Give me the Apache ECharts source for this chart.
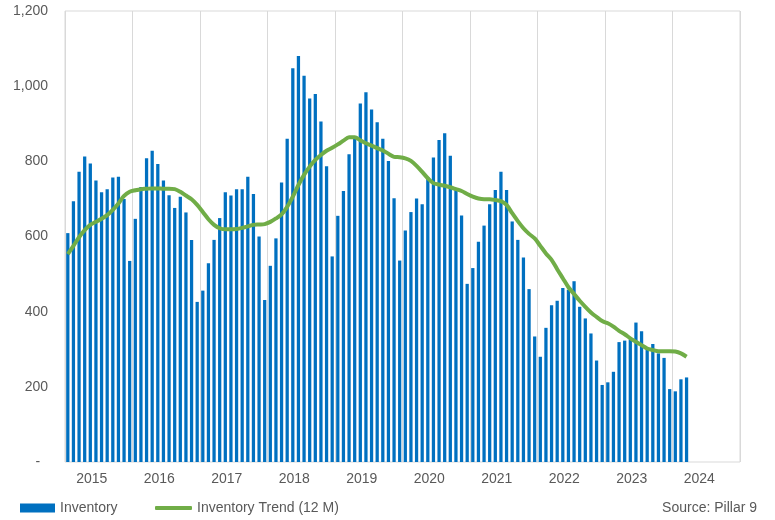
<!DOCTYPE html>
<html>
<head>
<meta charset="utf-8">
<script src="https://cdn.jsdelivr.net/npm/echarts@6/dist/echarts.min.js"></script>
<style>
  html, body { margin: 0; padding: 0; background: #fff; }
  #main { width: 775px; height: 520px; }
</style>
</head>
<body>
<div id="main"></div>
<script>
// years on the axis, one category per month
var years = ['2015', '2016', '2017', '2018', '2019', '2020', '2021', '2022', '2023', '2024'];
var monthNames = ['01', '02', '03', '04', '05', '06', '07', '08', '09', '10', '11', '12'];

// monthly inventory, Jan 2015 - Mar 2024
var inventory = [
    609, 694, 772, 813, 794, 749, 718, 726, 757, 759, 700, 535,
    647, 732, 808, 828, 793, 749, 710, 676, 706, 664, 591, 426,
    456, 529, 591, 649, 718, 709, 726, 726, 759, 713, 600, 431,
    522, 595, 744, 860, 1048, 1080, 1028, 967, 979, 906, 787, 547,
    655, 721, 819, 861, 954, 984, 938, 904, 860, 801, 702, 536,
    616, 665, 701, 686, 758, 810, 857, 875, 815, 724, 656, 474,
    516, 586, 629, 686, 724, 772, 724, 640, 591, 544, 460, 334,
    280, 357, 417, 429, 463, 458, 481, 413, 382, 342, 270, 205,
    212, 240, 319, 323, 326, 371, 348, 302, 314, 289, 277, 194,
    188, 220, 225
];

// 12 month trend
var trend = [
    553, 575, 598, 617, 631, 639, 647, 657, 671, 688, 708, 719,
    723, 726, 727, 728, 728, 727, 727, 726, 719, 709, 699, 684,
    665, 646, 631, 622, 619, 619, 620, 623, 627, 631, 632, 633,
    639, 648, 659, 679, 706, 737, 764, 786, 804, 817, 828, 836,
    845, 855, 864, 864, 856, 848, 842, 835, 829, 820, 812, 811,
    808, 801, 788, 772, 755, 742, 738, 735, 731, 726, 721, 713,
    706, 701, 699, 699, 697, 694, 684, 662, 641, 622, 607, 595,
    575, 555, 538, 513, 489, 465, 447, 429, 413, 398, 386, 375,
    369, 360, 349, 340, 329, 320, 311, 302, 298, 295, 295, 295,
    294, 289, 280
];

var months = [];
for (var i = 0; i < years.length; i++) {
    for (var j = 0; j < 12; j++) {
        months.push(years[i] + '-' + monthNames[j]);
    }
}

var chart = echarts.init(document.getElementById('main'));
var grey = '#595959';
var font = 'Liberation Sans, Arial, sans-serif';

var option = {
    animation: false,
    textStyle: { fontFamily: font },
    grid: {
        left: 65,
        right: 35,
        top: 11,
        bottom: 58,
        show: true,
        borderColor: '#d9d9d9',
        borderWidth: 1
    },
    legend: [{
        data: ['Inventory'],
        left: 15,
        top: 496,
        icon: 'rect',
        itemWidth: 35,
        itemHeight: 9,
        textStyle: { color: grey, fontSize: 14, fontFamily: font }
    }, {
        data: ['Inventory Trend (12 M)'],
        left: 150,
        top: 496,
        icon: 'roundRect',
        itemWidth: 37,
        itemHeight: 4,
        textStyle: { color: grey, fontSize: 14, fontFamily: font }
    }],
    graphic: [{
        type: 'text',
        right: 18,
        top: 501,
        style: {
            text: 'Source: Pillar 9',
            fill: grey,
            font: '14px ' + font
        }
    }],
    xAxis: {
        type: 'category',
        data: months,
        boundaryGap: true,
        axisLine: { show: false },
        axisTick: { show: false },
        axisLabel: {
            interval: function (index) { return index % 12 === 4; },
            formatter: function (v) { return v.substr(0, 4); },
            color: grey,
            fontSize: 14,
            margin: 10,
            padding: [0, 0, 0, 3]
        },
        splitLine: {
            show: true,
            interval: function (index) { return index % 12 === 0; },
            lineStyle: { color: '#d9d9d9', width: 1 }
        }
    },
    yAxis: {
        type: 'value',
        min: 0,
        max: 1200,
        interval: 200,
        axisLine: { show: false },
        axisTick: { show: false },
        splitLine: { show: false },
        axisLabel: {
            color: grey,
            fontSize: 14,
            margin: 17,
            formatter: function (v) {
                if (v === 0) return '-  ';
                return v.toLocaleString('en-US');
            }
        }
    },
    series: [{
        name: 'Inventory',
        type: 'bar',
        data: inventory,
        barWidth: '58%',
        itemStyle: { color: '#0070C0' }
    }, {
        name: 'Inventory Trend (12 M)',
        type: 'line',
        data: trend,
        smooth: 0.3,
        showSymbol: false,
        symbol: 'none',
        itemStyle: { color: '#70AD47' },
        lineStyle: { color: '#70AD47', width: 4 }
    }]
};

chart.setOption(option);
</script>
</body>
</html>
